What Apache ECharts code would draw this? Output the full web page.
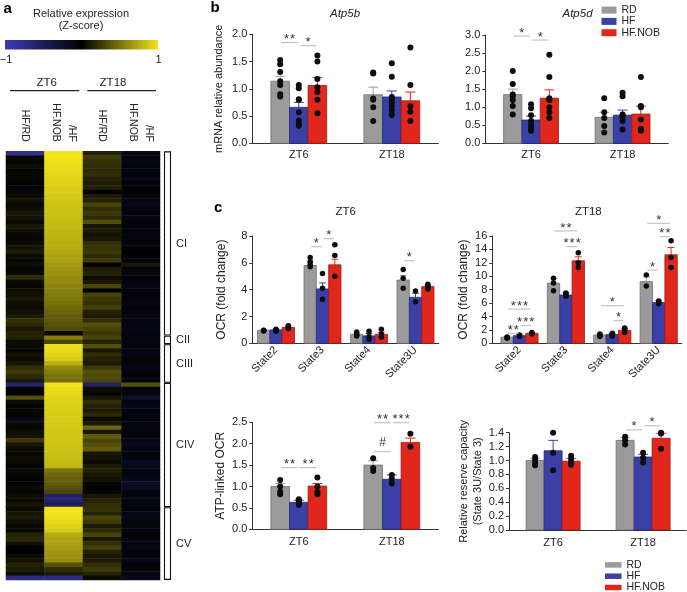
<!DOCTYPE html>
<html><head><meta charset="utf-8">
<script src="https://cdn.jsdelivr.net/npm/echarts@6.0.0/dist/echarts.min.js"></script>
<style>html,body{margin:0;padding:0;background:#fff}#c{width:687px;height:592px}</style>
</head><body><div id="c"></div>
<script>
// ================= DATA =================
const groups = ['RD', 'HF', 'HF.NOB'];

// ---- panel a : heatmap (Z-score) ----
const heatCols = ['HF/RD', 'HF.NOB\n/HF', 'HF/RD', 'HF.NOB\n/HF'];
const complexes = ['CI', 'CII', 'CIII', 'CIV', 'CV'];
const complexRows = [43, 2, 9, 29, 17];
const zt6HFvsRD = [
  -0.8, 0.05,0.03,0.06,0.02,0.04,0.03,-0.03,-0.05,0.02,
  0.05,0.08,0.04,0.06,0.1,0.08,0.05,0.1,0.06,0.04,
  0.03,0.05,0.08,0.12,0.05,0.03,0.06,0.02,0.04,0.18,
  0.05,0.03,0.06,0.08,0.1,0.06,0.05,0.08,0.12,0.22,
  0.18,0.1,0.15,
  0.15,0.05,
  0.05,0.03,0.08,0.05,0.1,0.2,0.25,0.18,0.1,
  -0.6,0.02,0.0,0.35,0.05,-0.03,0.04,0.02,-0.15,0.05,
  0.03,0.06,0.08,0.25,0.1,0.05,0.03,0.06,0.04,0.02,
  0.05,0.03,-0.04,0.02,0.05,0.03,0.06,0.04,0.1,
  0.05,0.1,0.12,0.06,0.04,0.03,0.15,0.18,0.08,0.0,
  -0.02,0.05,0.08,0.15,0.12,0.06,-0.7
];
const zt6NOBvsHF = [
  1.0,1.0,0.98,0.97,0.96,0.95,0.93,0.92,0.9,0.9,
  0.88,0.87,0.86,0.85,0.84,0.83,0.82,0.81,0.8,0.79,
  0.78,0.77,0.76,0.74,0.72,0.7,0.68,0.66,0.64,0.62,
  0.6,0.58,0.56,0.54,0.52,0.5,0.47,0.44,0.41,0.38,
  0.36,0.34,0.02,
  0.55,0.3,
  0.98,0.96,0.93,0.9,0.78,0.6,0.55,0.5,0.48,
  1.0,0.97,0.95,0.93,0.92,0.91,0.9,0.9,0.89,0.88,
  0.88,0.87,0.87,0.86,0.85,0.85,0.84,0.83,0.82,0.8,
  0.5,0.45,0.42,0.4,0.36,0.3,-0.55,-0.6,-0.5,
  1.0,1.0,0.97,0.95,0.92,0.9,0.75,0.72,0.7,0.68,
  0.66,0.64,0.62,0.35,0.2,0.12,-0.7
];
const zt18HFvsRD = [
  0.15, 0.25,0.22,0.2,0.18,0.2,0.15,0.12,0.15,0.0,0.12,
  0.15,0.3,0.2,0.25,0.18,0.35,0.1,0.12,0.08,0.1,
  0.2,0.22,0.25,0.18,0.25,0.0,0.12,0.15,0.05,0.1,
  0.3,0.0,0.3,0.25,0.22,0.28,0.15,0.12,0.2,0.35,
  0.3,0.25,
  0.3,0.15,
  0.35,0.1,0.2,0.15,0.12,0.25,0.35,0.32,0.3,
  -0.55,0.05,0.03,0.1,0.2,0.15,0.12,0.18,0.05,0.1,
  0.45,0.1,0.4,0.3,0.35,0.4,0.1,0.08,0.05,0.12,
  0.15,0.1,0.08,0.02,0.0,0.03,0.1,0.15,0.2,
  0.22,0.15,0.3,0.25,0.12,0.18,0.3,0.1,0.2,0.28,
  0.15,0.1,0.12,0.2,0.25,0.15,0.05
];
const zt18NOBvsHF = [
  -0.12,-0.08,-0.1,-0.06,-0.1,-0.08,-0.12,-0.05,-0.04,-0.02,
  -0.08,-0.1,-0.12,-0.06,-0.08,-0.1,-0.05,-0.07,-0.04,-0.1,
  -0.06,-0.08,-0.05,-0.02,0.0,-0.04,0.1,-0.06,-0.08,-0.03,
  -0.1,-0.12,-0.05,-0.08,-0.06,-0.1,-0.04,-0.08,-0.12,-0.1,
  -0.08,-0.12,-0.1,
  -0.08,-0.1,
  -0.06,-0.08,-0.1,-0.05,-0.08,-0.1,-0.06,-0.05,-0.08,
  0.35,-0.05,-0.08,-0.25,-0.1,-0.12,-0.08,-0.1,-0.05,-0.08,
  -0.1,-0.06,-0.08,-0.12,-0.15,-0.1,-0.08,-0.06,-0.18,-0.15,
  -0.1,-0.08,-0.12,-0.2,-0.18,-0.1,-0.08,-0.06,-0.1,
  -0.08,-0.1,-0.12,-0.06,-0.08,-0.1,-0.05,-0.08,-0.1,-0.12,
  -0.06,-0.08,-0.1,-0.05,-0.08,-0.1,-0.15
];

// ---- panel b : mRNA ----
const timeCats = ['ZT6', 'ZT18'];
const atp5bMean = [[1.14, 0.89], [0.66, 0.85], [1.06, 0.78]];
const atp5bErr  = [[0.09, 0.14], [0.09, 0.11], [0.15, 0.16]];
const atp5bDots = [
  [[1.53,1.45,1.31,1.14,1.07,0.90,0.86], [1.30,1.28,0.82,0.80,0.66,0.41]],
  [[1.07,1.01,0.81,0.80,0.57,0.42,0.35,0.32], [1.47,1.22,0.85,0.80,0.75,0.68,0.60,0.52]],
  [[1.61,1.50,1.18,1.03,0.94,0.80,0.55], [1.76,1.07,0.68,0.58,0.41]]
];
const atp5bSig = [[0,0,1,1.85,'**'], [0,1,2,1.79,'*']];

const atp5dMean = [[1.35, 0.72], [0.645, 0.78], [1.25, 0.81]];
const atp5dErr  = [[0.15, 0.14], [0.11, 0.14], [0.23, 0.22]];
const atp5dDots = [
  [[2.0,1.64,1.35,1.30,1.20,1.03,0.80], [1.25,0.86,0.70,0.48,0.30]],
  [[1.08,0.97,0.78,0.62,0.51,0.41,0.35], [1.40,1.30,0.80,0.76,0.70,0.62,0.38]],
  [[2.45,1.84,1.25,1.20,1.00,0.86,0.70], [1.84,1.03,1.0,0.66,0.40,0.35]]
];
const atp5dSig = [[0,0,1,2.97,'*'], [0,1,2,2.86,'*']];

// ---- panel c : OCR ----
const stateCats = ['State2', 'State3', 'State4', 'State3U'];
const ocrZT6Mean = [[0.97,5.8,0.67,4.72], [1.0,4.05,0.55,3.43], [1.19,5.85,0.67,4.22]];
const ocrZT6Err  = [[0.05,0.25,0.12,0.33], [0.07,0.45,0.18,0.3], [0.1,0.42,0.15,0.12]];
const ocrZT6Dots = [
  [[0.92,0.95,0.98], [6.4,6.1,5.9,5.7], [0.85,0.7,0.55,0.6], [5.5,4.85,4.1]],
  [[0.9,1.0,1.05], [5.2,4.1,3.28], [0.9,0.5,0.3], [3.9,3.1]],
  [[1.1,1.2,1.3], [7.35,6.55,5.0], [1.05,0.7,0.45], [4.4,4.3,4.15,4.05]]
];
const ocrZT6Sig = [[1,0,1,7.2,'*'], [1,1,2,7.8,'*'], [3,0,1,6.15,'*']];

const ocrZT18Mean = [[0.9,8.96,1.24,9.2], [1.13,7.2,1.3,6.07], [1.49,12.3,1.94,13.2]];
const ocrZT18Err  = [[0.1,0.7,0.15,0.75], [0.12,0.35,0.15,0.3], [0.1,0.6,0.28,1.1]];
const ocrZT18Dots = [
  [[0.75,0.85,0.95], [9.7,9.0,7.85], [1.0,1.2,1.4], [10.2,8.55]],
  [[1.0,1.1,1.25], [7.0,7.3,7.5], [1.1,1.3,1.5], [5.9,6.1,6.3]],
  [[1.4,1.5,1.6], [13.5,12.0,11.3], [1.6,2.0,2.3], [15.3,12.8,11.3]]
];
const ocrZT18Sig = [
  [0,0,1,1.49,'**'], [0,0,2,5.1,'***'], [0,1,2,2.62,'***'],
  [1,0,2,16.75,'**'], [1,1,2,14.4,'***'],
  [2,0,2,5.6,'*'], [2,1,2,3.37,'*'],
  [3,0,2,17.9,'*'], [3,1,2,15.9,'**'], [3,0,1,10.93,'*']
];

const atpMean = [[1.0, 1.5], [0.63, 1.17], [1.01, 2.03]];
const atpErr  = [[0.07, 0.1], [0.05, 0.1], [0.06, 0.1]];
const atpDots = [
  [[1.15,1.0,0.88,0.82], [1.66,1.43,1.36]],
  [[0.70,0.67,0.63,0.60,0.57], [1.27,1.18,1.07]],
  [[1.21,1.0,0.87,0.82], [2.23,1.93]]
];
const atpSig = [[0,0,1,1.44,'**'], [0,1,2,1.44,'**'], [1,0,1,1.81,'#'], [1,0,1,2.49,'**'], [1,1,2,2.49,'***']];

const reserveMean = [[1.0, 1.29], [1.14, 1.05], [0.99, 1.32]];
const reserveErr  = [[0.03, 0.04], [0.15, 0.04], [0.04, 0.07]];
const reserveDots = [
  [[1.05,1.01,0.96,0.93], [1.34,1.29,1.23]],
  [[1.40,1.11,0.86], [1.11,1.04,0.97]],
  [[1.07,1.02,0.97,0.94], [1.40,1.39,1.17]]
];
const reserveSig = [[1,0,1,1.44,'*'], [1,1,2,1.50,'*']];

// ================= STYLE / LAYOUT =================
const FONT = '"Liberation Sans", Arial, sans-serif';
const TXT = '#222';
const groupColors = ['#9b9b9b', '#3b40a6', '#e1261c'];
const groupBorders = ['#707070', '#272b7c', '#a8170f'];
const heatColors = ['#3c3cb4', '#000000', '#f2e41a'];

const panels = [
  { cats: timeCats, means: atp5bMean, errs: atp5bErr, dots: atp5bDots, sigs: atp5bSig,
    L: { left: 252.3, top: 34.3, height: 109, xMin: -0.5, xMax: 1.5, unit: 93, bw: 0.2, yMax: 2, yInt: 0.5, dec: 1,
         name: 'mRNA relative abundance', nameGap: 26, nameSize: 11, rotate: 0, lblMargin: 6, dot: 6 } },
  { cats: timeCats, means: atp5dMean, errs: atp5dErr, dots: atp5dDots, sigs: atp5dSig,
    L: { left: 485.3, top: 35, height: 108.3, xMin: -0.5, xMax: 1.5, unit: 91.5, bw: 0.2, yMax: 3, yInt: 0.5, dec: 1,
         name: '', nameGap: 0, nameSize: 11, rotate: 0, lblMargin: 6, dot: 6 } },
  { cats: stateCats, means: ocrZT6Mean, errs: ocrZT6Err, dots: ocrZT6Dots, sigs: ocrZT6Sig,
    L: { left: 252.3, top: 236, height: 107.3, xMin: -0.51, xMax: 3.5, unit: 46.5, bw: 0.265, yMax: 8, yInt: 2, dec: 0,
         name: 'OCR (fold change)', nameGap: 24, nameSize: 12, rotate: 45, lblMargin: 5, dot: 5.5 } },
  { cats: stateCats, means: ocrZT18Mean, errs: ocrZT18Err, dots: ocrZT18Dots, sigs: ocrZT18Sig,
    L: { left: 492.3, top: 236, height: 107.3, xMin: -0.586, xMax: 3.5, unit: 46.4, bw: 0.267, yMax: 16, yInt: 2, dec: 0,
         name: 'OCR (fold change)', nameGap: 21, nameSize: 12, rotate: 45, lblMargin: 5, dot: 5.5 } },
  { cats: timeCats, means: atpMean, errs: atpErr, dots: atpDots, sigs: atpSig,
    L: { left: 252.3, top: 422.3, height: 107, xMin: -0.5, xMax: 1.5, unit: 93, bw: 0.2, yMax: 2.5, yInt: 0.5, dec: 1,
         name: 'ATP-linked OCR', nameGap: 24, nameSize: 12, rotate: 0, lblMargin: 7, dot: 6 } },
  { cats: timeCats, means: reserveMean, errs: reserveErr, dots: reserveDots, sigs: reserveSig,
    L: { left: 509, top: 432.7, height: 97.3, xMin: -0.49, xMax: 1.48, unit: 90, bw: 0.2, yMax: 1.4, yInt: 0.2, dec: 1,
         name: 'Relative reserve capacity\n(State 3U/State 3)', nameGap: 22, nameSize: 11, rotate: 0, lblMargin: 7, dot: 6 } }
];

// ================= BUILD =================
const grids = [], xAxes = [], yAxes = [], series = [];

// heatmap grid
const heatValues = [zt6HFvsRD, zt6NOBvsHF, zt18HFvsRD, zt18NOBvsHF];
grids.push({ left: 6, top: 151.3, width: 154, height: 428.7, outerBoundsMode: 'none' });
xAxes.push({ type: 'category', gridIndex: 0, data: heatCols, position: 'top',
  axisLine: { show: false }, axisTick: { show: false }, splitLine: { show: false },
  axisLabel: { rotate: 90, fontSize: 10.5, color: TXT, margin: 9.5, lineHeight: 15.5, interval: 0,
    formatter: v => v.split('\n').reverse().join('\n') } });
yAxes.push({ type: 'category', gridIndex: 0, inverse: true, show: false,
  data: zt6HFvsRD.map((_, i) => String(i)) });
series.push({
  type: 'heatmap', xAxisIndex: 0, yAxisIndex: 0,
  data: heatValues.flatMap((col, ci) => col.map((v, r) => [ci, r, v])),
  itemStyle: { borderWidth: 0 }, emphasis: { disabled: true }
});
// complex brackets
const complexStarts = complexRows.map((n, i) => complexRows.slice(0, i).reduce((a, b) => a + b, 0));
series.push({
  type: 'custom', xAxisIndex: 0, yAxisIndex: 0, silent: true, clip: false,
  data: complexes.map((c, i) => [3, complexStarts[i], complexStarts[i] + complexRows[i] - 1]),
  renderItem: (p, api) => {
    const s = api.value(1), e = api.value(2);
    const band = api.size([1, 1]);
    const pt = api.coord([3, s]), pb = api.coord([3, e]);
    const xr = pt[0] + band[0] / 2;
    const y0 = pt[1] - band[1] / 2, y1 = pb[1] + band[1] / 2;
    return { type: 'group', children: [
      { type: 'rect', shape: { x: xr + 4.5, y: y0 + 0.6, width: 6, height: y1 - y0 - 1.2 },
        style: { fill: '#fff', stroke: '#111', lineWidth: 1.1 } },
      { type: 'text', style: { text: complexes[p.dataIndex], x: xr + 16, y: (y0 + y1) / 2,
        fill: TXT, font: '11px ' + FONT, verticalAlign: 'middle', align: 'left' } }
    ]};
  }
});

// bar panels
panels.forEach((P, pi) => {
  const L = P.L, gi = pi + 1;
  const off = g => (g - 1) * L.bw;
  grids.push({ left: L.left, top: L.top, width: (L.xMax - L.xMin) * L.unit, height: L.height, outerBoundsMode: 'none' });
  xAxes.push({ type: 'value', gridIndex: gi, min: L.xMin, max: L.xMax,
    axisLine: { show: true, onZero: false, lineStyle: { color: '#333', width: 1 } },
    axisTick: { show: false }, splitLine: { show: false },
    axisLabel: { customValues: P.cats.map((_, k) => k), formatter: v => P.cats[Math.round(v)] || '',
      fontSize: 11, color: TXT, margin: L.lblMargin, rotate: L.rotate } });
  yAxes.push({ type: 'value', gridIndex: gi, min: 0, max: L.yMax, interval: L.yInt,
    axisLine: { show: true, onZero: false, lineStyle: { color: '#333', width: 1 } },
    axisTick: { show: true, length: 3, lineStyle: { color: '#333' } },
    splitLine: { show: false },
    axisLabel: { fontSize: 11, color: TXT, margin: 5, formatter: v => v.toFixed(L.dec) },
    name: L.name, nameLocation: 'middle', nameRotate: 90, nameGap: L.nameGap,
    nameTextStyle: { fontSize: L.nameSize, color: TXT, lineHeight: 14 } });
  // bars with error bars
  groups.forEach((gname, g) => {
    series.push({
      type: 'custom', name: gname, xAxisIndex: gi, yAxisIndex: gi, clip: false,
      itemStyle: { color: groupColors[g] },
      data: P.cats.map((c, k) => [k + off(g), P.means[g][k], P.errs[g][k]]),
      renderItem: (p, api) => {
        const x = api.value(0), m = api.value(1), e = api.value(2);
        const a = api.coord([x - L.bw / 2, m]);
        const b = api.coord([x + L.bw / 2, 0]);
        const t = api.coord([x, m + e]);
        const cap = (b[0] - a[0]) * 0.27;
        return { type: 'group', children: [
          { type: 'line', shape: { x1: t[0], y1: a[1], x2: t[0], y2: t[1] }, style: { stroke: groupColors[g], lineWidth: 1 } },
          { type: 'line', shape: { x1: t[0] - cap, y1: t[1], x2: t[0] + cap, y2: t[1] }, style: { stroke: groupColors[g], lineWidth: 1 } },
          { type: 'rect', shape: { x: a[0], y: a[1], width: b[0] - a[0], height: b[1] - a[1] },
            style: { fill: groupColors[g], stroke: groupBorders[g], lineWidth: 0.8 } }
        ]};
      }
    });
  });
  // individual points
  const pts = [];
  groups.forEach((gname, g) => P.cats.forEach((c, k) => P.dots[g][k].forEach(v => pts.push([k + off(g), v]))));
  series.push({ type: 'scatter', xAxisIndex: gi, yAxisIndex: gi, data: pts, symbolSize: L.dot, z: 5,
    itemStyle: { color: '#0c0c0c', opacity: 1 }, silent: true });
  // significance annotations
  series.push({
    type: 'custom', xAxisIndex: gi, yAxisIndex: gi, clip: false, silent: true, z: 6,
    data: P.sigs.map(s => [s[0] + off(s[1]), s[0] + off(s[2]), s[3]]),
    renderItem: (p, api) => {
      const y = api.value(2);
      const a = api.coord([api.value(0), y]), b = api.coord([api.value(1), y]);
      const lab = P.sigs[p.dataIndex][4];
      const hash = lab === '#';
      return { type: 'group', children: [
        { type: 'line', shape: { x1: a[0] + 1, y1: a[1], x2: b[0] - 1, y2: b[1] }, style: { stroke: '#b8b8b8', lineWidth: 1 } },
        { type: 'text', style: { text: hash ? '#' : lab.split('').join('\u200A'), x: (a[0] + b[0]) / 2,
          y: a[1] - (hash ? 9 : 3), align: 'center', verticalAlign: 'middle', fill: '#333',
          font: (hash ? '12px ' : '13px ') + FONT } }
      ]};
    }
  });
});

const legendBase = {
  orient: 'vertical', icon: 'rect', padding: 0, itemGap: 0.3, selectedMode: false, height: 60,
  textStyle: { fontSize: 10.5, color: TXT, lineHeight: 11, fontFamily: FONT },
  data: groups
};

function txt(text, x, y, size, opts) {
  return Object.assign({ type: 'text', silent: true, style: Object.assign({ text, x, y, fill: TXT,
    font: size + 'px ' + FONT, align: 'center', verticalAlign: 'middle' }, opts || {}) });
}
const graphics = [
  txt('a', 3.5, 9, 15, { font: 'bold 15px ' + FONT, align: 'left', fill: '#000' }),
  txt('b', 210.5, 8, 15, { font: 'bold 15px ' + FONT, align: 'left', fill: '#000' }),
  txt('c', 214, 208, 15, { font: 'bold 15px ' + FONT, align: 'left', fill: '#000' }),
  txt('Relative expression', 81, 14, 11),
  txt('(Z-score)', 81, 26, 11),
  { type: 'rect', silent: true, shape: { x: 5, y: 40, width: 153, height: 9.5 },
    style: { fill: new echarts.graphic.LinearGradient(0, 0, 1, 0, [
      { offset: 0, color: heatColors[0] }, { offset: 0.5, color: heatColors[1] }, { offset: 1, color: heatColors[2] }]) } },
  txt('\u22121', 6, 60, 11),
  txt('1', 158.5, 60, 11),
  txt('ZT6', 46.7, 83.3, 11.5),
  txt('ZT18', 113, 83.3, 11.5),
  { type: 'line', silent: true, shape: { x1: 10, y1: 90.7, x2: 79.3, y2: 90.7 }, style: { stroke: '#222', lineWidth: 1.2 } },
  { type: 'line', silent: true, shape: { x1: 87.3, y1: 90.7, x2: 156, y2: 90.7 }, style: { stroke: '#222', lineWidth: 1.2 } },
  txt('Atp5b', 345, 14, 11.5, { font: 'italic 11.5px ' + FONT }),
  txt('Atp5d', 577.5, 14, 11.5, { font: 'italic 11.5px ' + FONT }),
  txt('ZT6', 345.7, 211.7, 11.5),
  txt('ZT18', 588.3, 211.7, 11.5)
];

const option = {
  animation: false,
  textStyle: { fontFamily: FONT },
  grid: grids, xAxis: xAxes, yAxis: yAxes, series,
  visualMap: { type: 'continuous', show: false, seriesIndex: 0, min: -1, max: 1, dimension: 2,
    inRange: { color: heatColors } },
  legend: [
    Object.assign({}, legendBase, { left: 601.5, top: 4.6, itemWidth: 15, itemHeight: 7 }),
    Object.assign({}, legendBase, { left: 605, top: 559.4, itemWidth: 16.5, itemHeight: 5.5 })
  ],
  graphic: { elements: graphics }
};

const chart = echarts.init(document.getElementById('c'), null, { renderer: 'canvas', width: 687, height: 592 });
chart.setOption(option);
</script>
</body></html>
